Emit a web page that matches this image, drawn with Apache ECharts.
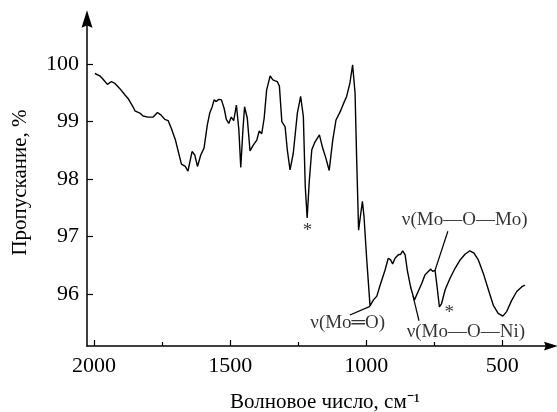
<!DOCTYPE html>
<html>
<head>
<meta charset="utf-8">
<script src="https://cdn.jsdelivr.net/npm/echarts@6/dist/echarts.min.js"></script>
<style>
  html, body { margin: 0; padding: 0; background: #fff; }
  #chart { width: 557px; height: 412px; }
</style>
</head>
<body>
<div id="chart"></div>
<script>
// wavenumber, cm-1
const wavenumbers = [
  1997, 1979, 1967, 1951, 1936, 1924, 1906, 1887, 1873, 1857, 1850, 1832, 1820, 1802, 1783,
  1767, 1755, 1740, 1728, 1716, 1701, 1689, 1679, 1665, 1655, 1640, 1630, 1620, 1608, 1596,
  1584, 1575, 1566, 1559, 1551, 1542, 1532, 1522, 1514, 1505, 1496, 1487, 1477, 1468, 1461,
  1453, 1447, 1437, 1427, 1415, 1402, 1393, 1384, 1375, 1366, 1353, 1343, 1327, 1319, 1310,
  1298, 1290, 1280, 1268, 1253, 1241, 1231, 1224, 1217, 1209, 1200, 1188, 1172, 1160, 1148,
  1136, 1123, 1111, 1096, 1084, 1072, 1060, 1050, 1041, 1035, 1028, 1020, 1014, 1008, 998,
  986, 974, 961, 949, 931, 919, 910, 903, 894, 882, 873, 866, 857, 849, 836,
  823, 812, 796, 784, 772, 763, 756, 747, 741, 731, 723, 710, 692, 674, 655,
  637, 619, 604, 588, 570, 551, 533, 515, 498, 484, 465, 447, 429, 417
];
// transmission, %
const transmission = [
  99.84, 99.80, 99.74, 99.65, 99.70, 99.67, 99.58, 99.47, 99.39, 99.26, 99.19, 99.15, 99.10, 99.08, 99.08,
  99.16, 99.12, 99.04, 99.02, 98.88, 98.68, 98.45, 98.26, 98.22, 98.14, 98.48, 98.42, 98.22, 98.42, 98.54,
  98.94, 99.15, 99.26, 99.38, 99.35, 99.39, 99.38, 99.23, 99.04, 98.97, 99.08, 99.02, 99.29, 98.86, 98.20,
  98.86, 99.26, 99.06, 98.49, 98.59, 98.68, 98.84, 98.79, 99.06, 99.55, 99.80, 99.73, 99.70, 99.62, 99.00,
  98.91, 98.51, 98.16, 98.45, 99.15, 99.44, 99.09, 97.87, 97.32, 97.98, 98.51, 98.65, 98.77, 98.54, 98.36,
  98.15, 98.68, 99.03, 99.17, 99.31, 99.44, 99.67, 99.99, 99.50, 98.33, 97.11, 97.40, 97.61, 97.34, 96.59,
  95.79, 95.89, 95.96, 96.15, 96.41, 96.62, 96.59, 96.52, 96.62, 96.68, 96.69, 96.75, 96.68, 96.41, 96.10,
  95.89, 96.01, 96.18, 96.33, 96.39, 96.43, 96.39, 96.41, 96.18, 95.77, 95.83, 96.07, 96.27, 96.44, 96.59,
  96.69, 96.75, 96.71, 96.59, 96.36, 96.07, 95.80, 95.66, 95.61, 95.69, 95.89, 96.04, 96.12, 96.15
];

const xLabelTicks = [2000, 1500, 1000, 500];
const xMinorTicks = [1750, 1250, 750];
const yLabelTicks = [96, 97, 98, 99, 100];

// annotation texts: [wavenumber, transmission, text]
const noteTexts = [
  [1216, 97.09, '*'],
  [695, 95.67, '*'],
  [1068, 95.49, 'ν(Mo═O)'],
  [638, 97.29, 'ν(Mo—O—Mo)'],
  [634, 95.34, 'ν(Mo—O—Ni)']
];
// leader lines: [from wavenumber, from T, to wavenumber, to T]
const noteLeaders = [
  [986, 95.78, 1060, 95.63],
  [700, 97.09, 747, 96.41],
  [828, 95.96, 806, 95.53]
];

const font = '"Liberation Serif", "Times New Roman", serif';
const arrow = 'path://M0,0 L5,16 L0,14 L-5,16 Z';

const chart = echarts.init(document.getElementById('chart'));
const xBase = {
  type: 'value',
  inverse: true,
  position: 'bottom',
  min: 321,
  max: 2026,
  splitLine: { show: false }
};

chart.setOption({
  animation: false,
  backgroundColor: '#fff',
  textStyle: { fontFamily: font, color: '#000' },
  grid: { left: 87, right: 6, top: 19, bottom: 66, outerBoundsMode: 'none', containLabel: false },
  xAxis: [
    Object.assign({}, xBase, {
      name: 'Волновое число, см⁻¹',
      nameLocation: 'middle',
      nameGap: 46,
      nameTextStyle: { fontFamily: font, fontSize: 21, color: '#000', padding: [0, 0, 0, 12] },
      axisLine: {
        lineStyle: { color: '#000', width: 1.5 },
        symbol: ['none', arrow],
        symbolSize: [10, 14]
      },
      axisTick: { inside: true, length: 6, customValues: xLabelTicks, lineStyle: { color: '#000', width: 1.2 } },
      axisLabel: {
        customValues: xLabelTicks, margin: 9, fontFamily: font, fontSize: 22, color: '#000',
        formatter: (v) => String(v)
      }
    }),
    Object.assign({}, xBase, {
      axisLine: { show: false },
      axisTick: { inside: true, length: 4, customValues: xMinorTicks, lineStyle: { color: '#000', width: 1.2 } },
      axisLabel: { show: false }
    })
  ],
  yAxis: {
    type: 'value',
    min: 95.09,
    max: 100.79,
    name: 'Пропускание, %',
    nameLocation: 'middle',
    nameRotate: 90,
    nameGap: 56,
    nameTextStyle: { fontFamily: font, fontSize: 21, color: '#000' },
    splitLine: { show: false },
    axisLine: {
      show: true,
      lineStyle: { color: '#000', width: 1.5 },
      symbol: ['none', arrow],
      symbolSize: [11, 18]
    },
    axisTick: { show: true, inside: true, length: 6, customValues: yLabelTicks, lineStyle: { color: '#000', width: 1.2 } },
    axisLabel: {
      customValues: yLabelTicks, margin: 8, fontFamily: font, fontSize: 22, color: '#000',
      formatter: (v) => String(v)
    }
  },
  series: [
    {
      type: 'line',
      xAxisIndex: 0,
      symbol: 'none',
      lineStyle: { color: '#000', width: 1.4 },
      data: wavenumbers.map((w, i) => [w, transmission[i]])
    },
    {
      type: 'scatter',
      xAxisIndex: 0,
      symbolSize: 1,
      itemStyle: { color: 'rgba(0,0,0,0)' },
      label: {
        show: true,
        position: 'inside',
        fontFamily: font,
        fontSize: 19,
        color: '#000',
        formatter: (p) => p.data[2]
      },
      data: noteTexts,
      markLine: {
        silent: true,
        symbol: 'none',
        label: { show: false },
        lineStyle: { color: '#000', width: 1.2, type: 'solid' },
        data: noteLeaders.map((l) => [{ coord: [l[0], l[1]] }, { coord: [l[2], l[3]] }])
      }
    }
  ]
});
</script>
</body>
</html>
